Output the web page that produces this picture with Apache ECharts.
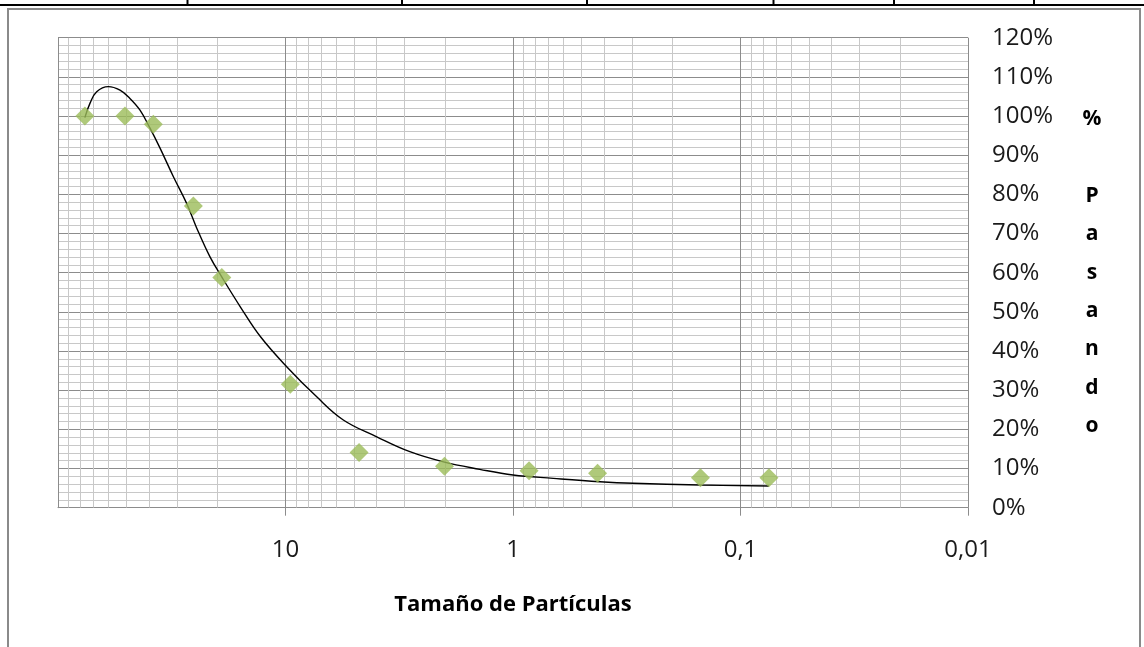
<!DOCTYPE html>
<html>
<head>
<meta charset="utf-8">
<script src="https://cdn.jsdelivr.net/npm/echarts@6/dist/echarts.min.js"></script>
<style>
html,body{margin:0;padding:0;background:#fff;}
#chart{width:1144px;height:647px;}
</style>
</head>
<body>
<div id="chart"></div>
<script>
// Particle sizes (mm) and % passing
var sizes = [76.2, 50.8, 38.1, 25.4, 19.05, 9.525, 4.75, 2.0, 0.85, 0.425, 0.15, 0.075];
var passing = [100, 100, 97.9, 77.0, 58.8, 31.5, 14.1, 10.6, 9.45, 8.8, 7.66, 7.66];

// Trend curve
var trendX = [76.2, 72.3, 67.6, 60.1, 53.4, 48.3, 43.6, 39.4, 35.6, 31.1, 27.2, 24.6, 21.5, 19.1, 15.8, 12.9, 9.88, 7.29, 5.57, 3.97, 2.84, 2.02, 1.40, 1.00, 0.665, 0.415, 0.296, 0.151, 0.075];
var trendY = [99.6, 103.3, 106.2, 107.5, 106.6, 104.5, 101.5, 96.9, 91.8, 84.5, 77.7, 71.5, 64.1, 59.0, 51.3, 43.7, 36.0, 28.3, 22.4, 18.1, 14.3, 11.7, 9.8, 8.35, 7.5, 6.64, 6.23, 5.8, 5.54];

// Axis ticks
var xTickValues = [10, 1, 0.1, 0.01];
var xTickLabels = ['10', '1', '0,1', '0,01'];
var decades = [0.01, 0.1, 1, 10];
var minorMultipliers = [2, 3, 4, 5, 6, 7, 8, 9];

var minorValues = [];
decades.forEach(function (d) {
  minorMultipliers.forEach(function (m) {
    minorValues.push(Number((d * m).toPrecision(6)));
  });
});

var FONT = '"Open Sans"';
var chart = echarts.init(document.getElementById('chart'), null, { renderer: 'canvas' });

var option = {
  backgroundColor: '#ffffff',
  animation: false,
  textStyle: { fontFamily: FONT },
  grid: { left: 58, right: 176, top: 37.7, bottom: 139.3, containLabel: false },
  xAxis: {
    type: 'log',
    logBase: 10,
    min: 0.01,
    max: 100,
    inverse: true,
    name: 'Tamaño de Partículas',
    nameLocation: 'middle',
    nameGap: 86,
    nameTextStyle: { fontFamily: FONT, fontWeight: 'bold', fontSize: 22, color: '#000' },
    axisLine: { show: true, lineStyle: { color: '#8c8c8c', width: 1 } },
    axisTick: { show: true, length: 8, customValues: xTickValues, lineStyle: { color: '#8c8c8c' } },
    axisLabel: {
      show: true,
      margin: 30,
      fontSize: 24,
      color: '#1a1a1a',
      fontFamily: FONT,
      customValues: xTickValues,
      formatter: function (v) {
        var i = xTickValues.findIndex(function (t) { return Math.abs(Math.log10(t) - Math.log10(v)) < 1e-6; });
        return i >= 0 ? xTickLabels[i] : '';
      }
    },
    splitLine: { show: true, lineStyle: { color: '#8c8c8c', width: 1 } }
  },
  yAxis: [{
    type: 'value',
    position: 'right',
    min: 0,
    max: 120,
    interval: 10,
    name: '%\n\nP\na\ns\na\nn\nd\no',
    nameLocation: 'middle',
    nameRotate: 0,
    nameGap: 124,
    nameTextStyle: { fontFamily: FONT, fontWeight: 'bold', fontSize: 21, color: '#000', align: 'center', lineHeight: 38.3, padding: [12, 0, 0, 0] },
    axisLine: { show: false },
    axisTick: { show: false },
    axisLabel: {
      margin: 24,
      fontSize: 24,
      color: '#1a1a1a',
      fontFamily: FONT,
      formatter: function (v) { return Math.round(v) + '%'; }
    },
    splitLine: { show: true, lineStyle: { color: '#8c8c8c', width: 1 } },
    minorTick: { show: false, splitNumber: 5 },
    minorSplitLine: { show: true, lineStyle: { color: '#c8c8c8', width: 1 } }
  }, {
    type: 'value',
    position: 'left',
    min: 0,
    max: 120,
    axisLine: { show: true, lineStyle: { color: '#8c8c8c', width: 1 } },
    axisTick: { show: false },
    axisLabel: { show: false },
    splitLine: { show: false }
  }],
  series: [
    {
      name: 'grid-minor',
      type: 'custom',
      z: 1,
      silent: true,
      clip: true,
      data: minorValues.map(function (v) { return [v]; }),
      encode: { x: 0 },
      renderItem: function (params, api) {
        var v = api.value(0);
        var p1 = api.coord([v, 0]);
        var p2 = api.coord([v, 120]);
        var x = Math.round(p1[0]) + 0.5;
        return {
          type: 'line',
          shape: { x1: x, y1: p1[1], x2: x, y2: p2[1] },
          style: { stroke: '#c8c8c8', lineWidth: 1 }
        };
      }
    },
    {
      name: 'Tendencia',
      type: 'line',
      z: 3,
      smooth: 0.4,
      showSymbol: false,
      symbol: 'none',
      lineStyle: { color: '#000', width: 1.4 },
      data: trendX.map(function (x, i) { return [x, trendY[i]]; })
    },
    {
      name: '% Pasando',
      type: 'scatter',
      z: 4,
      symbol: 'diamond',
      symbolSize: 19,
      itemStyle: { color: '#9BBB59' },
      data: sizes.map(function (s, i) { return [s, passing[i]]; })
    }
  ],
  graphic: [
    { type: 'line', silent: true, z: 100, shape: { x1: 0, y1: 5, x2: 1144, y2: 5 }, style: { stroke: '#000', lineWidth: 2 } },
    { type: 'line', silent: true, z: 100, shape: { x1: 187.5, y1: 0, x2: 187.5, y2: 6 }, style: { stroke: '#000', lineWidth: 2 } },
    { type: 'line', silent: true, z: 100, shape: { x1: 402, y1: 0, x2: 402, y2: 6 }, style: { stroke: '#000', lineWidth: 2 } },
    { type: 'line', silent: true, z: 100, shape: { x1: 587, y1: 0, x2: 587, y2: 6 }, style: { stroke: '#000', lineWidth: 2 } },
    { type: 'line', silent: true, z: 100, shape: { x1: 773.5, y1: 0, x2: 773.5, y2: 6 }, style: { stroke: '#000', lineWidth: 2 } },
    { type: 'line', silent: true, z: 100, shape: { x1: 894, y1: 0, x2: 894, y2: 6 }, style: { stroke: '#000', lineWidth: 2 } },
    { type: 'line', silent: true, z: 100, shape: { x1: 1034, y1: 0, x2: 1034, y2: 6 }, style: { stroke: '#000', lineWidth: 2 } },
    { type: 'rect', silent: true, z: 100, shape: { x: 8, y: 9, width: 1132, height: 700 }, style: { fill: 'none', stroke: '#8a8a8a', lineWidth: 2 } }
  ]
};
chart.setOption(option);
</script>
</body>
</html>
